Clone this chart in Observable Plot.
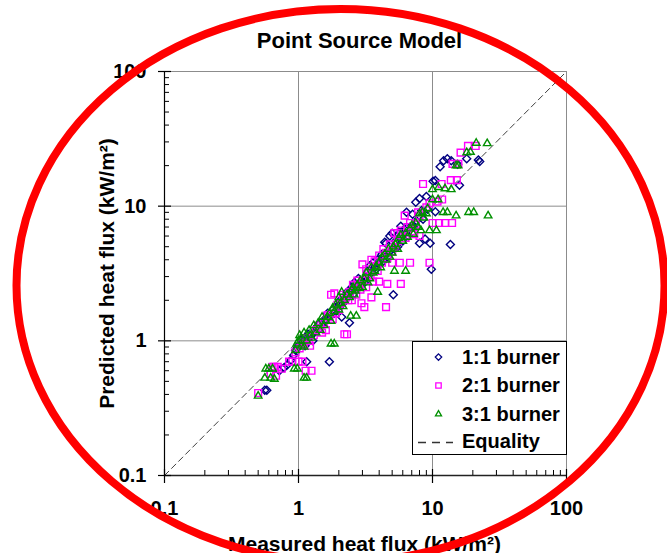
<!DOCTYPE html>
<html><head><meta charset="utf-8">
<script src="https://cdn.jsdelivr.net/npm/d3@7"></script>
<script src="https://cdn.jsdelivr.net/npm/@observablehq/plot@0.6"></script>
<style>html,body{margin:0;padding:0;background:#fff;overflow:hidden}#chart svg{display:block}</style>
</head><body><div id="chart"></div>
<script>
// ---- data: [measured, predicted] (kW/m²) ----
const burner11 = [[0.56,0.43],[0.58,0.43],[0.72,0.60],[0.78,0.63],[0.82,0.66],[0.88,0.72],[0.92,0.78],[0.95,0.85],[0.98,0.88],[1.0,0.92],[1.05,0.95],[1.1,1.0],[1.15,0.70],[1.2,1.05],[1.25,1.1],[1.3,1.15],[1.4,1.2],[1.5,1.3],[1.6,1.45],[1.7,0.70],[1.75,1.55],[1.85,1.6],[1.95,1.75],[2.0,1.85],[2.1,1.5],[2.2,2.0],[2.4,1.36],[2.4,2.2],[2.5,2.5],[2.6,2.7],[2.7,2.4],[2.9,2.6],[3.0,2.8],[3.2,3.0],[3.4,3.6],[3.5,3.2],[3.7,3.5],[3.9,4.0],[4.0,3.7],[4.2,4.4],[4.4,5.4],[4.5,5.3],[4.6,4.2],[4.8,6.0],[5.0,6.3],[5.1,2.2],[5.2,4.8],[5.5,5.0],[5.8,7.1],[6.0,5.5],[6.2,6.8],[6.4,9.0],[6.6,6.0],[7.1,8.7],[7.5,10.7],[7.2,7.0],[8.0,11.4],[8.0,5.3],[8.5,8.0],[8.8,5.7],[9.0,11.8],[9.6,5.3],[9.8,3.4],[10.1,15.3],[10.5,15.5],[10.5,9.1],[11.4,19.6],[12.1,21.7],[12.9,22.5],[13.6,5.2],[13.8,21.7],[15.4,20.5],[15.9,14.3],[18,22.5],[22,22],[22.5,21.5],[1.05,1.02],[1.12,0.92],[1.18,1.12],[1.28,1.0],[1.35,1.25],[1.45,1.35],[1.55,1.4],[1.65,1.6],[1.8,1.7],[1.9,1.65],[2.05,2.0],[2.15,1.9],[2.3,2.3],[2.45,2.35],[2.55,2.2],[2.65,2.55],[2.8,2.9],[3.1,2.7],[3.3,3.3],[3.6,3.8],[3.8,3.4],[4.1,4.0],[4.3,3.9],[4.7,4.5],[5.3,5.5],[5.6,6.2],[6.3,6.3],[6.8,7.0],[7.6,7.8],[8.3,9.3],[9.2,9.5]];
const burner21 = [[0.50,0.41],[0.62,0.57],[0.64,0.64],[0.66,0.64],[0.70,0.64],[0.68,0.55],[0.75,0.62],[0.85,0.70],[0.9,0.70],[1.0,0.70],[1.07,0.70],[1.13,0.60],[1.25,0.60],[0.95,0.82],[1.02,0.88],[1.1,0.95],[1.2,1.0],[1.3,1.1],[1.35,1.2],[1.45,1.25],[1.55,1.35],[1.6,1.2],[1.7,1.5],[1.75,2.2],[1.85,2.25],[1.9,1.6],[2.0,1.7],[2.1,1.9],[2.2,1.12],[2.3,1.12],[2.25,2.1],[2.4,2.3],[2.5,2.0],[2.6,2.4],[2.7,2.2],[2.8,2.6],[2.95,1.9],[3.0,2.8],[3.1,1.78],[3.0,3.7],[3.2,2.5],[3.3,3.2],[3.5,2.1],[3.6,2.75],[3.5,4.0],[3.8,3.6],[4.0,2.75],[4.0,4.3],[4.2,3.8],[4.5,1.78],[4.6,2.65],[4.5,4.5],[4.8,5.2],[5.0,3.8],[5.0,4.6],[5.2,6.3],[5.5,5.5],[5.7,3.8],[5.8,2.65],[5.8,6.6],[6.0,6.0],[6.2,8.5],[6.5,7.0],[6.8,3.8],[7.0,6.5],[7.5,7.3],[8.0,6.0],[8.0,8.5],[8.5,14.6],[9.0,9.8],[9.5,3.8],[9.5,10.5],[10.0,7.5],[10.9,10.8],[11.2,7.5],[11.7,14.6],[11.8,11.2],[12.4,7.5],[13.7,15.6],[14.0,7.5],[14.1,20.6],[15.2,15.6],[15.6,20.6],[16.2,25],[18.4,28],[21,28],[1.05,0.95],[1.15,1.05],[1.22,0.92],[1.4,1.3],[1.5,1.15],[1.65,1.55],[1.8,1.45],[1.95,1.85],[2.15,2.2],[2.35,2.0],[2.55,2.6],[2.75,2.8],[2.9,2.4],[3.2,3.4],[3.45,3.0],[3.7,3.9],[3.9,3.3],[4.3,4.8],[4.6,4.1],[5.2,5.0],[5.5,6.3],[6.3,5.8],[6.8,7.5],[7.3,6.2],[7.8,9.0]];
const burner31 = [[0.50,0.39],[0.57,0.62],[0.6,0.62],[0.64,0.62],[0.56,0.53],[0.62,0.53],[0.66,0.52],[0.93,0.62],[0.98,0.62],[1.1,0.53],[1.15,0.53],[0.95,0.85],[0.97,0.95],[1.0,1.0],[1.02,1.1],[1.05,1.05],[1.1,0.9],[1.1,1.15],[1.2,1.2],[1.25,1.05],[1.3,1.3],[1.4,1.35],[1.45,1.2],[1.5,1.5],[1.6,1.4],[1.75,0.95],[1.85,0.95],[1.7,1.6],[1.8,1.75],[1.9,1.85],[2.0,1.7],[2.0,2.1],[2.1,2.3],[2.2,2.0],[2.3,2.2],[2.45,1.53],[2.5,2.4],[2.6,2.2],[2.7,1.53],[2.75,2.6],[2.9,2.8],[3.0,2.5],[3.2,3.2],[3.4,2.9],[3.5,3.5],[3.7,3.3],[3.9,2.3],[4.0,3.8],[4.2,4.2],[4.5,4.0],[4.7,4.8],[5.0,4.5],[5.2,3.3],[5.3,5.2],[5.6,5.8],[6.0,5.5],[6.3,3.3],[6.3,6.3],[6.8,6.8],[7.2,6.2],[7.5,7.5],[8.0,8.8],[8.2,6.6],[8.4,9.0],[9.0,8.8],[9.5,6.6],[10,11.2],[10,13.3],[10.7,6.6],[11,11.2],[11.1,13.8],[12.0,9.0],[12.4,13.5],[12.9,9.0],[13.8,13.3],[15,8.5],[15,20],[15.5,20],[18,25],[18.6,9.0],[19.2,25.2],[20.3,9.0],[21.2,29.4],[25.6,29.2],[26,8.5],[1.05,0.92],[1.15,1.0],[1.22,1.1],[1.35,1.15],[1.55,1.3],[1.65,1.5],[1.75,1.4],[1.85,1.65],[2.05,1.9],[2.15,1.8],[2.4,2.1],[2.55,2.5],[2.65,2.35],[2.85,2.45],[3.1,2.9],[3.3,2.7],[3.6,3.2],[3.8,3.6],[4.1,3.5],[4.4,4.4],[4.8,4.2],[5.1,5.0],[5.5,4.8],[5.8,6.1],[6.5,5.9],[7.0,7.2],[7.8,7.0],[8.6,8.2],[9.2,9.6]];
const equalityLine = [0.1, 100];
const majorTicks = [0.1, 1, 10, 100];
const tickLabels = ["0.1", "1", "10", "100"];
const gridValues = [1, 10];
const minorTicks = [0.2,0.3,0.4,0.5,0.6,0.7,0.8,0.9,2,3,4,5,6,7,8,9,20,30,40,50,60,70,80,90];
const legendLabels = ["1:1 burner", "2:1 burner", "3:1 burner", "Equality"];
const titleText = "Point Source Model";
const xTitle = "Measured heat flux (kW/m²)";
const yTitle = "Predicted heat flux (kW/m²)";

// ---- layout / style ----
const W = 667, H = 553, ML = 164, MR = 101, MT = 71, MB = 78;
const IW = W - ML - MR, IH = H - MT - MB;
const FONT = "'Liberation Sans', Arial, sans-serif";
const series = [
  {data: burner11, symbol: "diamond2", r: 3.6, color: "#000080"},
  {data: burner21, symbol: "square2", r: 4.3, color: "#ff00ff"},
  {data: burner31, symbol: "triangle2", r: 3.6, color: "#009000"}
];
const grid = "#8c8c8c";
const legendDy = [285.6, 314, 342.6];
const legendTextDy = [285.6, 314, 342.6, 370];

const marks = [
  Plot.ruleX(gridValues, {x: d => d, stroke: grid, strokeWidth: 1}),
  Plot.ruleY(gridValues, {y: d => d, stroke: grid, strokeWidth: 1}),
  Plot.ruleX([100], {x: d => d, stroke: grid, strokeWidth: 1}),
  Plot.ruleY([100], {y: d => d, stroke: grid, strokeWidth: 1}),
  Plot.line(equalityLine, {x: d => d, y: d => d, stroke: "#404040", strokeWidth: 1, strokeDasharray: "6,4"}),
  ...series.map(s => Plot.dot(s.data, {x: d => d[0], y: d => d[1], symbol: s.symbol, r: s.r, stroke: s.color, strokeWidth: 1.4, fill: "none"})),
  // axis lines
  Plot.ruleX([0.1], {x: d => d, stroke: "black", strokeWidth: 1.2}),
  Plot.ruleY([0.1], {y: d => d, stroke: "#222", strokeWidth: 1.6}),
  // ticks
  Plot.tickX(minorTicks, {x: d => d, stroke: "black", strokeWidth: 1, insetTop: IH - 5}),
  Plot.tickX(majorTicks, {x: d => d, stroke: "black", strokeWidth: 1.2, insetTop: IH - 6, insetBottom: -8}),
  Plot.tickY(minorTicks, {y: d => d, stroke: "black", strokeWidth: 1, insetRight: IW - 5}),
  Plot.tickY(majorTicks, {y: d => d, stroke: "black", strokeWidth: 1.2, insetLeft: -6, insetRight: IW - 7}),
  // tick labels
  Plot.text(majorTicks, {x: d => d, text: (d, i) => tickLabels[i], frameAnchor: "bottom", dy: 33, lineAnchor: "middle", fontSize: 20, fontWeight: "bold", fill: "black"}),
  Plot.text(majorTicks, {y: d => d, text: (d, i) => tickLabels[i], frameAnchor: "left", dx: -18, textAnchor: "end", lineAnchor: "middle", fontSize: 20, fontWeight: "bold", fill: "black"}),
  // titles
  Plot.text([titleText], {text: d => d, frameAnchor: "top", dx: -6, dy: -24, textAnchor: "middle", lineAnchor: "bottom", fontSize: 22, fontWeight: "bold", fill: "black"}),
  Plot.text([xTitle], {text: d => d, frameAnchor: "bottom", dx: -1, dy: 75, textAnchor: "middle", lineAnchor: "bottom", fontSize: 21, fontWeight: "bold", fill: "black"}),
  Plot.text([yTitle], {text: d => d, frameAnchor: "left", dx: -51, rotate: -90, textAnchor: "middle", lineAnchor: "bottom", fontSize: 21, fontWeight: "bold", fill: "black"}),
  // legend
  Plot.frame({fill: "white", stroke: "black", strokeWidth: 1, insetLeft: 248, insetTop: 270, insetBottom: 21}),
  ...series.map((s, i) => Plot.dot([s], {frameAnchor: "top-left", dx: 274, dy: legendDy[i], symbol: s.symbol, r: s.r * 0.8, stroke: s.color, strokeWidth: 1.3, fill: "none"})),
  Plot.ruleY([0.1], {y: d => d, dy: -33, insetLeft: 254, insetRight: 113, stroke: "#333", strokeWidth: 1.3, strokeDasharray: "8,6"}),
  ...legendLabels.map((t, i) => Plot.text([t], {text: d => d, frameAnchor: "top-left", dx: 297.5, dy: legendTextDy[i], textAnchor: "start", lineAnchor: "middle", fontSize: 20, fontWeight: "bold", fill: "black"})),
  // red annotation ellipse
  Plot.frame({stroke: "#ff0000", strokeWidth: 8, fill: "none", insetLeft: 16 - ML, insetRight: (W - MR) - 664, insetTop: 8.5 - MT, insetBottom: (H - MB) - 561.5, rx: 324, ry: 276.5})
];

const chart = Plot.plot({
  width: W, height: H,
  marginLeft: ML, marginRight: MR, marginTop: MT, marginBottom: MB,
  style: {fontFamily: FONT, background: "white", overflow: "hidden"},
  x: {type: "log", domain: [0.1, 100], axis: null},
  y: {type: "log", domain: [0.1, 100], axis: null},
  marks
});
document.getElementById("chart").appendChild(chart);
</script>
</body></html>
